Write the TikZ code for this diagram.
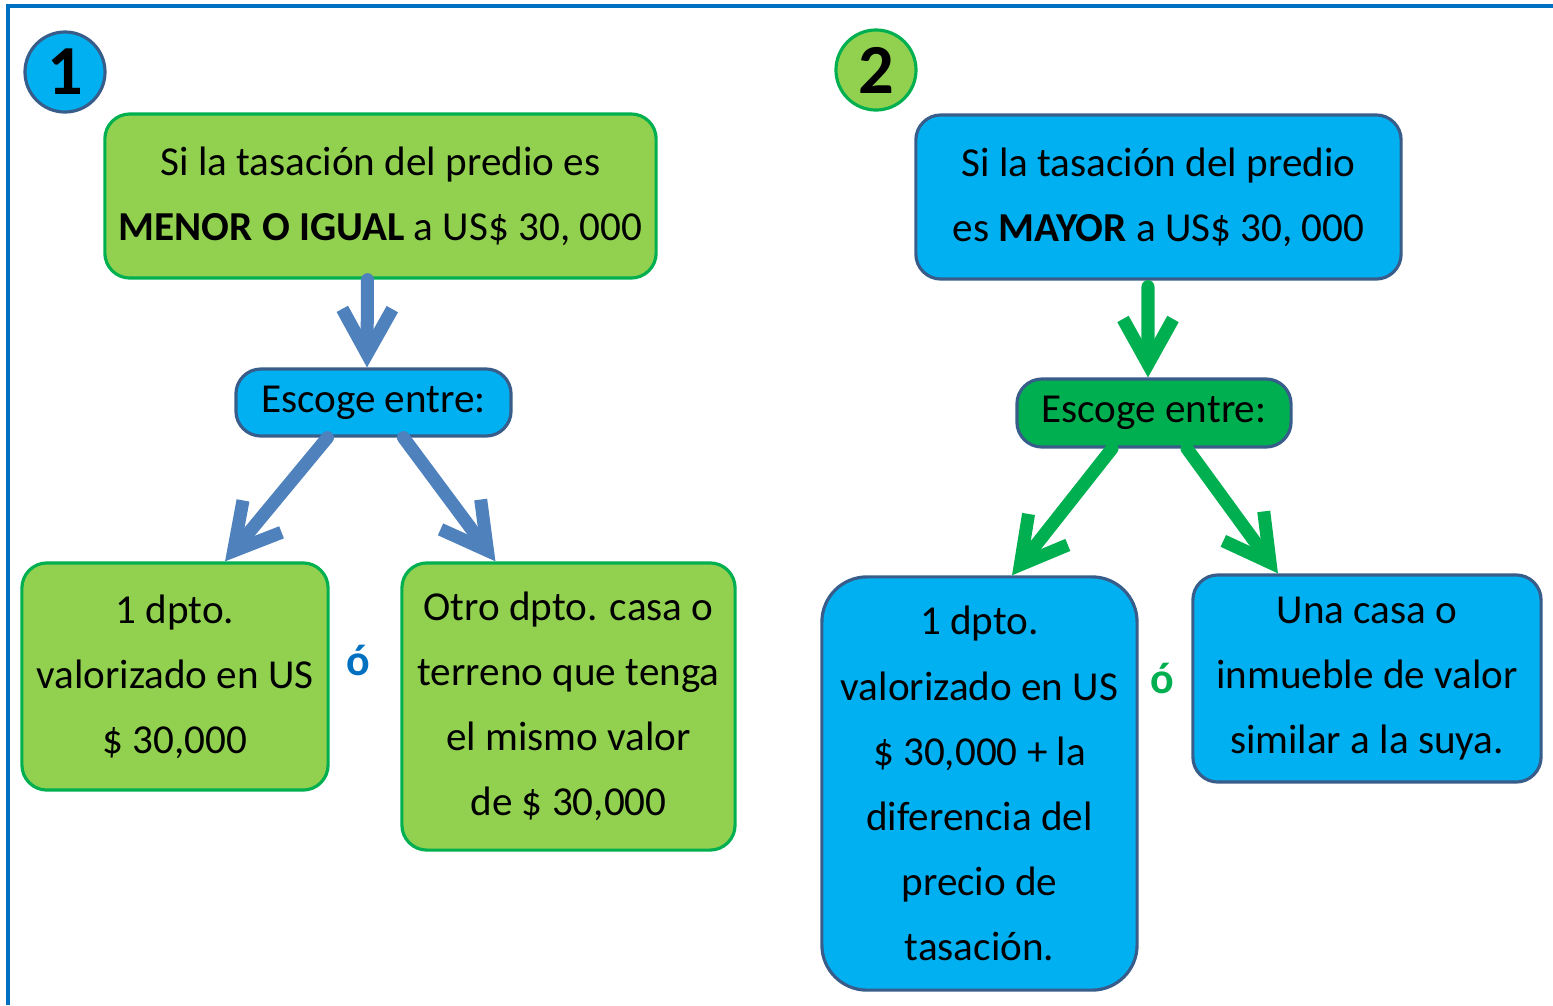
\documentclass[tikz,border=0pt]{standalone}
\usepackage{fontspec}
\setmainfont{Carlito}
\usetikzlibrary{arrows.meta}
\definecolor{celeste}{HTML}{00B0F0}
\definecolor{verdeclaro}{HTML}{92D050}
\definecolor{verdeosc}{HTML}{00B050}
\definecolor{bordeazul}{HTML}{385D8A}
\definecolor{flechaazul}{HTML}{4F81BD}
\definecolor{marco}{HTML}{0070C0}
\tikzset{
	caja/.style={rectangle, rounded corners=0.25cm, line width=0.9pt, align=center, inner sep=0pt,
		font=\fontsize{11.7}{18.5}\selectfont},
	cajaverde/.style={caja, draw=verdeosc, fill=verdeclaro},
	cajaceleste/.style={caja, draw=bordeazul, fill=celeste},
	numero/.style={circle, line width=0.9pt, minimum size=0.8cm, inner sep=0pt,
		font=\fontsize{20}{20}\selectfont\bfseries},
	flecha/.style={line width=3.7pt, line cap=round, -{Straight Barb[length=0.45cm, width=0.5cm]}},
	letrao/.style={font=\fontsize{12.5}{14}\selectfont\bfseries}
}

\begin{document}
\begin{tikzpicture}[x=0.01cm, y=-0.01cm]
			%%%%% START %%%%%
			\useasboundingbox (0, 0) rectangle (1553, 1005);
			\draw[marco, line width=0.9pt] (8, 1005) -- (8, 6) -- (1553, 6);
			
			% lado 1
			\node[numero, draw=bordeazul, fill=celeste] (numUno) at (65, 72) {1};
			\node[cajaverde, minimum width=5.51cm, minimum height=1.64cm] (tasaUno) at (380.5, 196)
				{Si la tasación del predio es\\\textbf{MENOR O IGUAL} a US\$ 30, 000};
			\node[cajaceleste, minimum width=2.75cm, minimum height=0.67cm] (escogeUno) at (373.5, 402.5) {Escoge entre:};
			\node[cajaverde, minimum width=3.06cm, minimum height=2.27cm] (optUnoA) at (175, 676.5)
				{1 dpto.\\valorizado en US\\\$ 30,000};
			\node[cajaverde, minimum width=3.33cm, minimum height=2.87cm] (optUnoB) at (568.5, 706.5)
				{Otro dpto. casa o\\terreno que tenga\\el mismo valor\\de \$ 30,000};
			\node[letrao, text=marco] (oUno) at (358, 660) {ó};
			
			\draw[flecha, flechaazul] ([xshift=-0.13cm]tasaUno.south) -- ([xshift=-0.065cm]escogeUno.north);
			\draw[flecha, flechaazul] ([xshift=-0.46cm]escogeUno.south) -- ([xshift=0.5cm]optUnoA.north);
			\draw[flecha, flechaazul] ([xshift=0.3cm]escogeUno.south) -- ([xshift=-0.73cm]optUnoB.north);
			
			% lado 2
			\node[numero, draw=verdeosc, fill=verdeclaro] (numDos) at (876, 70) {2};
			\node[cajaceleste, minimum width=4.85cm, minimum height=1.64cm] (tasaDos) at (1158.5, 197)
				{Si la tasación del predio\\es \textbf{MAYOR} a US\$ 30, 000};
			\node[caja, draw=bordeazul, fill=verdeosc, minimum width=2.74cm, minimum height=0.68cm] (escogeDos) at (1154, 413) {Escoge entre:};
			\node[cajaceleste, rounded corners=0.45cm, minimum width=3.15cm, minimum height=4.13cm] (optDosA) at (979.5, 783.5)
				{1 dpto.\\valorizado en US\\\$ 30,000 + la\\diferencia del\\precio de\\tasación.};
			\node[cajaceleste, minimum width=3.48cm, minimum height=2.07cm] (optDosB) at (1367, 678.5)
				{Una casa o\\inmueble de valor\\similar a la suya.};
			\node[letrao, text=verdeosc] (oDos) at (1162, 678) {ó};
			
			\draw[flecha, verdeosc] ([xshift=-0.105cm, yshift=-0.06cm]tasaDos.south) -- ([xshift=-0.06cm]escogeDos.north);
			\draw[flecha, verdeosc] ([xshift=-0.42cm]escogeDos.south) -- ([xshift=0.325cm]optDosA.north);
			\draw[flecha, verdeosc] ([xshift=0.33cm]escogeDos.south) -- ([xshift=-0.89cm]optDosB.north);
			%%%%% END %%%%%
\end{tikzpicture}
\end{document}
